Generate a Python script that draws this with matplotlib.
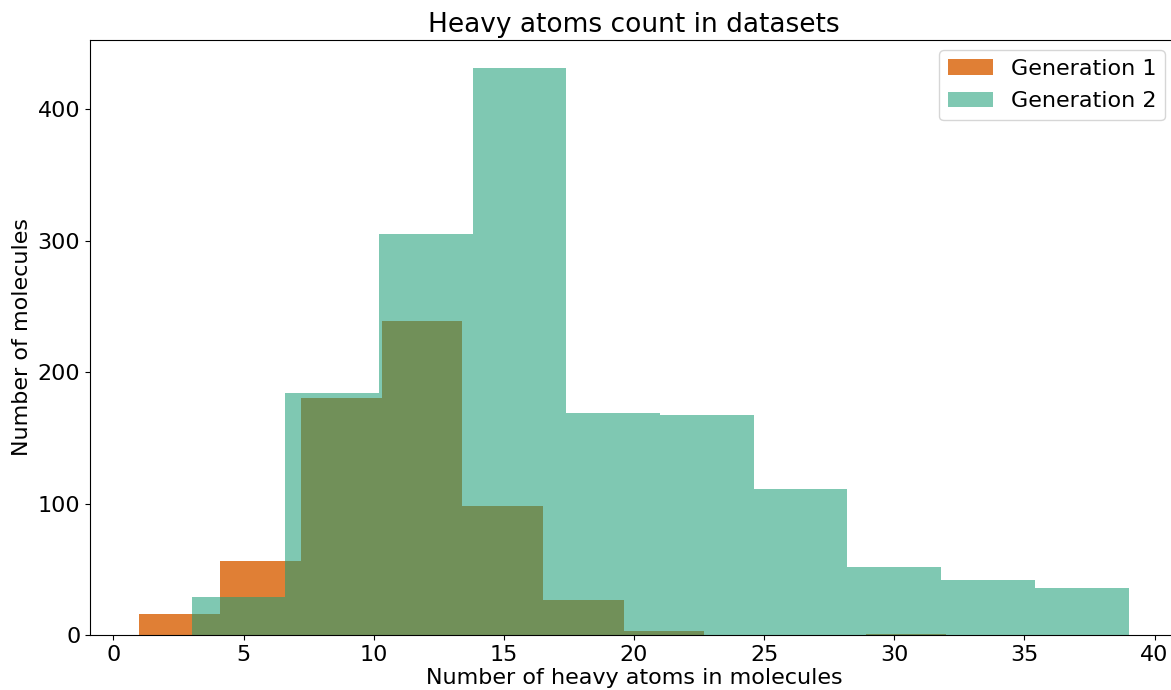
import numpy as np
import matplotlib.pyplot as plt

# bin edges and counts
gen1_edges = [1.0, 4.1, 7.2, 10.3, 13.4, 16.5, 19.6, 22.7, 25.8, 28.9, 32.0]
gen1_counts = [16, 56, 180, 239, 98, 27, 3, 0, 0, 1]
gen2_edges = [3.0, 6.6, 10.2, 13.8, 17.4, 21.0, 24.6, 28.2, 31.8, 35.4, 39.0]
gen2_counts = [29, 184, 305, 431, 169, 167, 111, 52, 42, 36]

fig = plt.figure(figsize=(11.71, 6.9), dpi=100)
ax = fig.add_axes([90 / 1171, 1 - 635 / 690, 1088 / 1171, 595 / 690])

ax.hist(gen1_edges[:-1], bins=gen1_edges, weights=gen1_counts,
        color='#D95F02', alpha=0.8, label='Generation 1')
ax.hist(gen2_edges[:-1], bins=gen2_edges, weights=gen2_counts,
        color='#1B9E77', alpha=0.56, label='Generation 2')

ax.set_title('Heavy atoms count in datasets', fontsize=19)
ax.set_xlabel('Number of heavy atoms in molecules', fontsize=16, labelpad=2)
ax.set_ylabel('Number of molecules', fontsize=16)
ax.tick_params(labelsize=16)
ax.legend(fontsize=16, loc='upper right', borderaxespad=0,
          bbox_to_anchor=(0.988, 0.983), labelspacing=0.55)

fig.savefig('out.png', dpi=100)
